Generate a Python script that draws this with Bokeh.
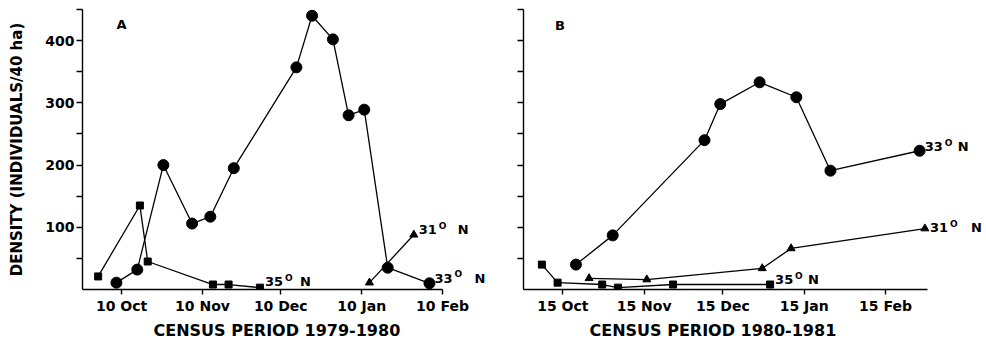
import pandas as pd
from bokeh.plotting import figure
from bokeh.models import Range1d, FixedTicker, Label, Title
from bokeh.layouts import row
from bokeh.embed import file_html
from bokeh.resources import INLINE

FONT = "DejaVu Sans"

# ---------------- data ----------------
# Panel A: census period 1979-1980
a_x_start, a_x_end = "1979-09-25", "1980-02-10"
a_tick_dates = ["1979-10-10", "1979-11-10", "1979-12-10", "1980-01-10", "1980-02-10"]
a_tick_labels = ["10 Oct", "10 Nov", "10 Dec", "10 Jan", "10 Feb"]

a33_dates = ["1979-10-08", "1979-10-16", "1979-10-26", "1979-11-06", "1979-11-13",
             "1979-11-22", "1979-12-16", "1979-12-22", "1979-12-30", "1980-01-05",
             "1980-01-11", "1980-01-20", "1980-02-05"]
a33_vals = [11, 32, 200, 106, 117, 195, 357, 440, 402, 280, 289, 35, 10]

a35_dates = ["1979-10-01", "1979-10-17", "1979-10-20", "1979-11-14", "1979-11-20", "1979-12-02"]
a35_vals = [21, 135, 45, 8, 8, 3]

a31_dates = ["1980-01-13", "1980-01-30"]
a31_vals = [11, 88]

# Panel B: census period 1980-1981
b_x_start, b_x_end = "1980-09-30", "1981-03-03"
b_tick_dates = ["1980-10-15", "1980-11-15", "1980-12-15", "1981-01-15", "1981-02-15"]
b_tick_labels = ["15 Oct", "15 Nov", "15 Dec", "15 Jan", "15 Feb"]

b33_dates = ["1980-10-20", "1980-11-03", "1980-12-08", "1980-12-14", "1980-12-29",
             "1981-01-12", "1981-01-25", "1981-02-28"]
b33_vals = [40, 87, 240, 298, 333, 309, 191, 223]

b35_dates = ["1980-10-07", "1980-10-13", "1980-10-30", "1980-11-05", "1980-11-26", "1981-01-02"]
b35_vals = [40, 11, 8, 3, 8, 8]

b31_dates = ["1980-10-25", "1980-11-16", "1980-12-30", "1981-01-10", "1981-03-02"]
b31_vals = [18, 16, 34, 66, 98]

y_major = [100, 200, 300, 400]
y_minor = [50, 150, 250, 350, 450]
y_max = 450

y_title = "DENSITY (INDIVIDUALS/40 ha)"
a_title = "CENSUS PERIOD 1979-1980"
b_title = "CENSUS PERIOD 1980-1981"


def days(dates, origin):
    o = pd.Timestamp(origin)
    return [(pd.Timestamp(d) - o).days for d in dates]


def make_panel(width, left, data_px, x_start, x_end, tick_dates, tick_labels, show_y):
    origin = tick_dates[0]
    d0, d1 = days([x_start, x_end], origin)
    pad_px = width - left - data_px
    ext = (d1 - d0) * pad_px / data_px  # room on the right for the series labels
    p = figure(width=width, height=341, output_backend="svg", toolbar_location=None,
               x_range=Range1d(d0, d1 + ext), y_range=Range1d(0, y_max),
               min_border_left=left, min_border_right=0,
               min_border_top=9, min_border_bottom=0)
    p.outline_line_color = None
    p.grid.visible = False
    p.background_fill_color = "white"
    p.border_fill_color = "white"

    tdays = days(tick_dates, origin)
    xa = p.xaxis[0]
    xa.bounds = (d0, d1)
    xa.ticker = FixedTicker(ticks=tdays)
    xa.major_label_overrides = {d: l for d, l in zip(tdays, tick_labels)}
    xa.minor_tick_line_color = None
    xa.major_tick_in = 0
    xa.major_tick_out = 5
    xa.axis_line_width = 1.4
    xa.major_tick_line_width = 1.4
    xa.axis_line_color = "black"
    xa.major_tick_line_color = "black"
    xa.major_label_text_font = FONT
    xa.major_label_text_font_style = "bold"
    xa.major_label_text_font_size = "14px"
    xa.major_label_text_color = "black"
    xa.major_label_standoff = 3

    ya = p.yaxis[0]
    if show_y:
        ya.ticker = FixedTicker(ticks=y_major, minor_ticks=y_minor)
    else:
        ya.ticker = FixedTicker(ticks=[], minor_ticks=sorted(y_major + y_minor))
    ya.major_tick_in = 0
    ya.major_tick_out = 6
    ya.minor_tick_in = 0
    ya.minor_tick_out = 6
    ya.axis_line_width = 1.4
    ya.major_tick_line_width = 1.4
    ya.minor_tick_line_width = 1.4
    ya.axis_line_color = "black"
    ya.major_tick_line_color = "black"
    ya.minor_tick_line_color = "black"
    ya.major_label_text_font = FONT
    ya.major_label_text_font_style = "bold"
    ya.major_label_text_font_size = "14px"
    ya.major_label_text_color = "black"
    ya.major_label_standoff = 2
    if show_y:
        ya.axis_label = y_title
        ya.axis_label_text_font = FONT
        ya.axis_label_text_font_style = "bold"
        ya.axis_label_text_font_size = "15px"
        ya.axis_label_text_color = "black"
        ya.axis_label_standoff = 16
    return p, origin


def add_xtitle(p, text, offset):
    p.add_layout(Title(text=text, align="left", offset=offset, standoff=4,
                       text_font=FONT, text_font_style="bold", text_font_size="16px",
                       text_color="black"), "below")


def add_series(p, origin, dates, vals, marker, size):
    xs = days(dates, origin)
    p.line(xs, vals, line_color="black", line_width=1.3)
    p.scatter(xs, vals, marker=marker, size=size, fill_color="black", line_color="black")
    return xs[-1], vals[-1]


def add_lat_label(p, x, y, num, dy, n_dx):
    base = dict(x=x, y=y, text_font=FONT, text_font_style="bold", text_color="black",
                text_align="left", text_baseline="middle")
    p.add_layout(Label(text=num, x_offset=5, y_offset=dy, text_font_size="13px", **base))
    p.add_layout(Label(text="O", x_offset=25, y_offset=dy + 4, text_font_size="9px", **base))
    p.add_layout(Label(text="N", x_offset=n_dx, y_offset=dy, text_font_size="13px", **base))


# ---------------- panel A ----------------
pa, oa = make_panel(490, 82, 360, a_x_start, a_x_end, a_tick_dates, a_tick_labels, True)
add_xtitle(pa, a_title, 71)
x35, y35 = add_series(pa, oa, a35_dates, a35_vals, "square", 7)
x33, y33 = add_series(pa, oa, a33_dates, a33_vals, "circle", 11)
x31, y31 = add_series(pa, oa, a31_dates, a31_vals, "triangle", 8)
add_lat_label(pa, x33, y33, "33", 5, 45)
add_lat_label(pa, x31, y31, "31", 5, 44)
add_lat_label(pa, x35, y35, "35", 6, 40)
pa.add_layout(Label(x=days(["1979-10-08"], oa)[0], y=426, text="A", text_font=FONT,
                    text_font_style="bold", text_font_size="13px", text_color="black",
                    text_align="left", text_baseline="middle"))

# ---------------- panel B ----------------
pb, ob = make_panel(496, 33, 404, b_x_start, b_x_end, b_tick_dates, b_tick_labels, False)
add_xtitle(pb, b_title, 66)
x35, y35 = add_series(pb, ob, b35_dates, b35_vals, "square", 7)
x31, y31 = add_series(pb, ob, b31_dates, b31_vals, "triangle", 8)
x33, y33 = add_series(pb, ob, b33_dates, b33_vals, "circle", 11)
add_lat_label(pb, x33, y33, "33", 4, 38)
add_lat_label(pb, x31, y31, "31", 1, 46)
add_lat_label(pb, x35, y35, "35", 5, 38)
pb.add_layout(Label(x=days(["1980-10-12"], ob)[0], y=424, text="B", text_font=FONT,
                    text_font_style="bold", text_font_size="13px", text_color="black",
                    text_align="left", text_baseline="middle"))

layout = row(pa, pb)
open("out.html", "w").write(file_html(layout, INLINE))
